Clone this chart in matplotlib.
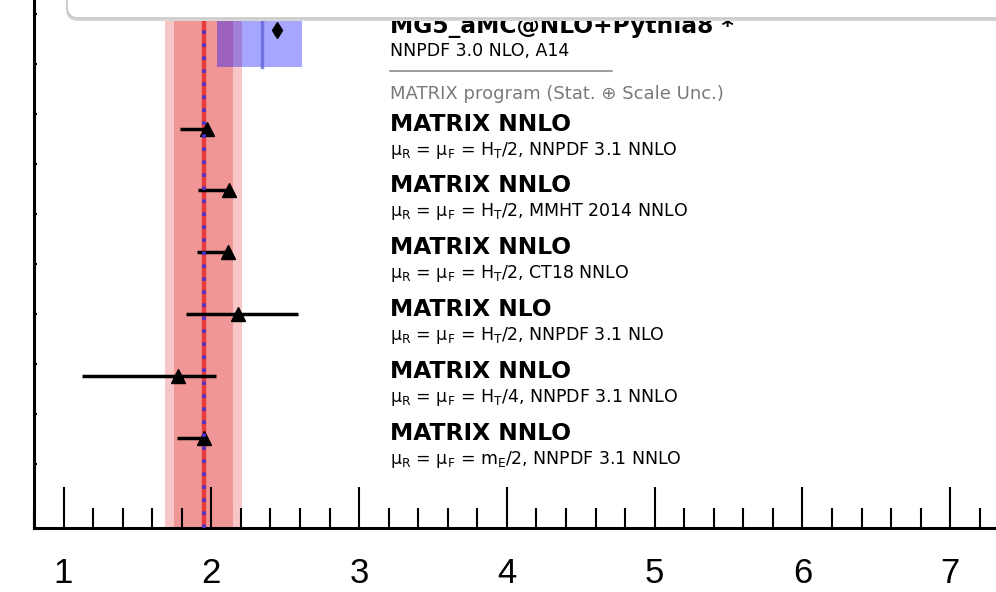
import matplotlib.pyplot as plt
from matplotlib.patches import FancyBboxPatch
from matplotlib.ticker import MultipleLocator, NullLocator
import numpy as np

plt.rcParams['font.family'] = ['DejaVu Sans']
plt.rcParams['mathtext.fontset'] = 'dejavusans'
plt.rcParams['mathtext.default'] = 'regular'

# measurement: central value, stat. band and total band
meas = 1.95
meas_stat = (1.748, 2.147)
meas_tot = (1.687, 2.208)

# MG5_aMC@NLO+Pythia8 prediction
mg5_val = 2.445
mg5_line = 2.344
mg5_band = (2.039, 2.614)
mg5_row = 9.68
mg5_band_rows = (8.94, 10.6)

# MATRIX predictions
matrix_rows = [7.70, 6.48, 5.24, 4.00, 2.76, 1.52]
matrix_val = [1.972, 2.120, 2.114, 2.181, 1.775, 1.951]
matrix_lo = [1.789, 1.911, 1.904, 1.829, 1.126, 1.768]
matrix_hi = [1.990, 2.138, 2.132, 2.587, 2.032, 1.966]

titles = ['MATRIX NNLO', 'MATRIX NNLO', 'MATRIX NNLO',
          'MATRIX NLO', 'MATRIX NNLO', 'MATRIX NNLO']
subtitles = [r'$\mu_{R}$ = $\mu_{F}$ = H$_{T}$/2, NNPDF 3.1 NNLO',
             r'$\mu_{R}$ = $\mu_{F}$ = H$_{T}$/2, MMHT 2014 NNLO',
             r'$\mu_{R}$ = $\mu_{F}$ = H$_{T}$/2, CT18 NNLO',
             r'$\mu_{R}$ = $\mu_{F}$ = H$_{T}$/2, NNPDF 3.1 NLO',
             r'$\mu_{R}$ = $\mu_{F}$ = H$_{T}$/4, NNPDF 3.1 NNLO',
             r'$\mu_{R}$ = $\mu_{F}$ = m$_{E}$/2, NNPDF 3.1 NNLO']

fig = plt.figure(figsize=(9.96, 5.92), dpi=100)
ax = fig.add_axes([34 / 996, 64 / 592, 962 / 996, 528 / 592])
ax.set_xlim(0.8, 7.31)
ax.set_ylim(-0.28, 10.28)

# measurement bands
ax.axvspan(*meas_tot, color='#f8c6c6', lw=0, zorder=1)
ax.axvspan(*meas_stat, color='#f09696', lw=0, zorder=1.5)
ax.axvline(meas, color='#e83c3c', lw=3.2, zorder=2)
ax.axvline(meas, color='#4a32d0', lw=2.6, ls=(0, (1, 2.6)), zorder=8)

# MG5 prediction
ax.fill_betweenx(mg5_band_rows, *mg5_band, color='blue', alpha=0.35, lw=0, zorder=4)
ax.plot([mg5_line, mg5_line], mg5_band_rows, color='#5a5ad0', lw=2.5, alpha=0.7, zorder=5)
ax.plot(mg5_val, mg5_row, marker='d', ms=8, color='black', zorder=6)

# MATRIX predictions
xerr = [np.subtract(matrix_val, matrix_lo), np.subtract(matrix_hi, matrix_val)]
ax.errorbar(matrix_val, matrix_rows, xerr=xerr, fmt='^', color='black', ms=9.5,
            elinewidth=2.5, capsize=0, zorder=7)

tx = 3.21
ax.text(tx, mg5_row - 0.06, 'MG5_aMC@NLO+Pythia8 *', fontsize=16.8, fontweight='bold', va='baseline')
ax.text(tx, mg5_row - 0.52, 'NNPDF 3.0 NLO, A14', fontsize=12.5, va='baseline')
ax.plot([tx, 4.71], [8.86, 8.86], color='#8c8c8c', lw=1.2)
ax.text(tx, 8.30, 'MATRIX program (Stat. \u2295 Scale Unc.)', fontsize=13,
        color='#7a7a7a', va='baseline')
for row, t, s in zip(matrix_rows, titles, subtitles):
    ax.text(tx, row - 0.04, t, fontsize=16.8, fontweight='bold', va='baseline')
    ax.text(tx, row - 0.52, s, fontsize=12.5, va='baseline')

# axes styling
ax.set_xticks(range(1, 8))
ax.xaxis.set_minor_locator(MultipleLocator(0.2))
ax.tick_params(axis='x', which='major', direction='in', length=29.5, width=1.5,
               pad=21, labelsize=25)
ax.tick_params(axis='x', which='minor', direction='in', length=14.5, width=1.5)
for lab in ax.get_xticklabels():
    lab.set_fontfamily('Liberation Sans')
ax.set_yticks(range(1, 11))
ax.yaxis.set_minor_locator(NullLocator())
ax.tick_params(axis='y', direction='in', length=2.5, width=1.5, labelleft=False)
for side in ['top', 'right']:
    ax.spines[side].set_visible(False)
for side in ['left', 'bottom']:
    ax.spines[side].set_linewidth(2.2)

# legend box at the top (cut off)
shadow = FancyBboxPatch((0.66, 5.71), 10, 1, boxstyle='round,pad=0,rounding_size=0.12',
                        transform=fig.dpi_scale_trans, fc='#d6d6d6', ec='none', zorder=20)
box = FancyBboxPatch((0.67, 5.74), 10, 1, boxstyle='round,pad=0,rounding_size=0.12',
                     transform=fig.dpi_scale_trans, fc='white', ec='#c4c4c4', lw=1, zorder=21)
fig.add_artist(shadow)
fig.add_artist(box)

fig.savefig('out.png', dpi=100)
